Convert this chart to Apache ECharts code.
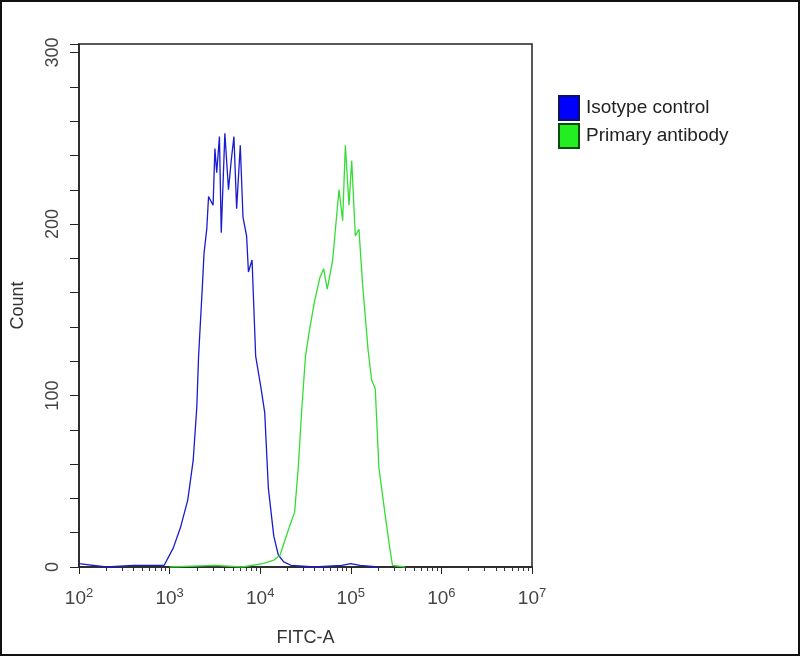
<!DOCTYPE html>
<html><head><meta charset="utf-8">
<script src="https://cdn.jsdelivr.net/npm/echarts@6/dist/echarts.min.js"></script>
<style>html,body{margin:0;padding:0;background:#fff}#c{width:796px;height:652px;border:2px solid #111}</style>
</head><body><div id="c"></div>
<script>
// log10(FITC-A) positions and counts
const isoExp =   [2.0,2.3,2.6,2.8,2.94,3.04,3.12,3.20,3.26,3.30,3.32,3.36,3.38,3.41,3.43,3.48,3.50,3.52,3.55,3.57,3.61,3.65,3.68,3.71,3.74,3.78,3.81,3.85,3.87,3.91,3.95,4.01,4.05,4.09,4.15,4.20,4.26,4.34,4.6,4.9,5.0,5.1,5.3];
const isoCount = [2,0,1,1,1,11,23,39,62,93,123,162,183,197,216,211,244,230,251,195,253,220,237,251,209,246,204,193,172,179,123,104,90,46,18,7,3,1,0,1,2,1,0];
const priExp =   [3.0,3.5,3.8,4.03,4.15,4.22,4.30,4.38,4.42,4.46,4.50,4.54,4.60,4.66,4.70,4.74,4.80,4.83,4.87,4.91,4.94,4.98,5.01,5.05,5.09,5.13,5.19,5.23,5.27,5.31,5.37,5.43,5.46,5.6];
const priCount = [0,1,0,2,4,7,20,32,58,93,123,137,155,169,174,162,179,197,220,202,246,211,237,193,197,165,127,109,104,58,34,11,1,0];
const seriesNames = ['Isotype control','Primary antibody'];
const toPts = (e,c)=>e.map((v,i)=>[Math.pow(10,v),c[i]]);
const chart = echarts.init(document.getElementById('c'));
const font = 'Liberation Sans';
chart.setOption({
  animation:false,
  textStyle:{fontFamily:font},
  grid:{left:77,right:266,top:42,bottom:87,show:true,borderColor:'#222',borderWidth:1.5,outerBoundsMode:'none',containLabel:false},
  legend:{orient:'vertical',left:551,top:88,itemGap:2,itemWidth:20,itemHeight:24,icon:'rect',
    textStyle:{fontSize:19,color:'#222',fontFamily:font,padding:[0,0,0,2]},
    data:[{name:seriesNames[0],itemStyle:{color:'#0000ff',borderColor:'#101060',borderWidth:2}},
          {name:seriesNames[1],itemStyle:{color:'#22ee22',borderColor:'#0a4a0a',borderWidth:2}}]},
  xAxis:{type:'log',logBase:10,min:100,max:1e7,name:'FITC-A',nameLocation:'middle',nameGap:62,
    nameTextStyle:{fontSize:18,color:'#333'},
    axisLine:{lineStyle:{color:'#222',width:1.5}},axisTick:{length:7,lineStyle:{color:'#222'}},
    minorTick:{show:true,splitNumber:9,length:4,lineStyle:{color:'#333'}},
    splitLine:{show:false},
    axisLabel:{fontSize:19,color:'#444',margin:20,
      formatter:v=>'10{s|'+Math.round(Math.log10(v))+'}',
      rich:{s:{fontSize:13,color:'#444',verticalAlign:'top',padding:[0,0,10,0]}}}},
  yAxis:{type:'value',min:0,max:305,interval:100,name:'Count',nameLocation:'middle',nameGap:52,nameRotate:90,
    nameTextStyle:{fontSize:18,color:'#333'},
    axisLine:{show:true,lineStyle:{color:'#222',width:1.5}},axisTick:{show:true,length:9,lineStyle:{color:'#222'}},
    minorTick:{show:true,splitNumber:5,length:9,lineStyle:{color:'#222'}},
    splitLine:{show:false},
    axisLabel:{fontSize:18,color:'#444',rotate:90,margin:17,formatter:v=>v%100===0?String(v):''}},
  series:[
    {name:seriesNames[0],type:'line',showSymbol:false,data:toPts(isoExp,isoCount),lineStyle:{color:'#1a1ad0',width:1.3},itemStyle:{color:'#0000ff'}},
    {name:seriesNames[1],type:'line',showSymbol:false,data:toPts(priExp,priCount),lineStyle:{color:'#33dd33',width:1.3},itemStyle:{color:'#22ee22'}}
  ]
});
</script></body></html>
